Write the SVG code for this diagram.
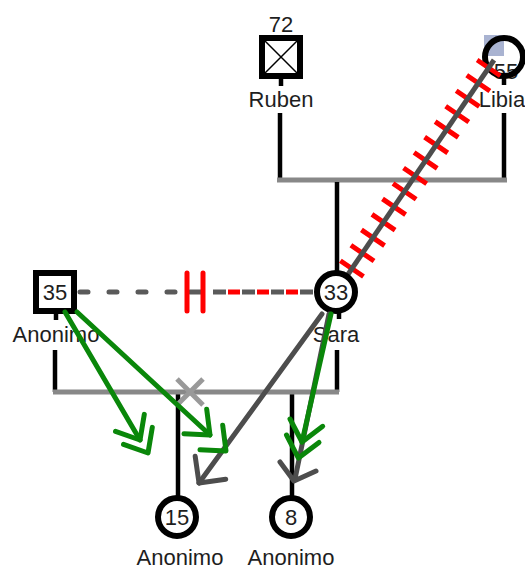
<svg xmlns="http://www.w3.org/2000/svg" width="525" height="569" viewBox="0 0 525 569">
<style>
  text { font-family: "Liberation Sans", Arial, sans-serif; font-size: 22px; fill: #1e1e1e; text-anchor: middle; }
  .fam { stroke: #000; stroke-width: 4.5; fill: none; }
  .bar { stroke: #888; stroke-width: 5; fill: none; }
  .node { stroke: #000; stroke-width: 6; fill: #fff; }
  .stem { stroke: #000; stroke-width: 4.5; }
  .grn { stroke: #0a870a; stroke-width: 5; fill: none; stroke-linecap: round; stroke-linejoin: round; }
  .gry { stroke: #4d4d4d; stroke-width: 5; fill: none; stroke-linecap: round; stroke-linejoin: round; }
  .red { stroke: #ff0000; fill: none; }
</style>
<rect x="0" y="0" width="525" height="569" fill="#fff"/>

<g id="connectors">
  <!-- upper family -->
  <line class="fam" x1="280" y1="113" x2="280" y2="180"/>
  <line class="fam" x1="504" y1="113" x2="504" y2="180"/>
  <line class="bar" x1="277" y1="180" x2="507" y2="180"/>
  <line class="fam" x1="337" y1="182" x2="337" y2="274"/>
  <!-- lower family -->
  <line class="fam" x1="55" y1="350" x2="55" y2="392"/>
  <line class="fam" x1="337" y1="350" x2="337" y2="392"/>
  <line class="fam" x1="178" y1="394" x2="178" y2="499"/>
  <line class="fam" x1="292" y1="394" x2="292" y2="499"/>
  <line class="bar" x1="53" y1="392" x2="339" y2="392"/>
  <path d="M177 379 L203 405 M203 379 L177 405" stroke="#999" stroke-width="5" fill="none"/>
  <!-- Anonimo - Sara dashed relation -->
  <line x1="80" y1="292" x2="184" y2="292" stroke="#5a5a5a" stroke-width="5" stroke-linecap="round" stroke-dasharray="8 21"/>
  <line x1="190" y1="292" x2="202" y2="292" stroke="#5a5a5a" stroke-width="5" stroke-linecap="round"/>
  <line x1="228" y1="292" x2="316" y2="292" class="red" stroke-width="5" stroke-dasharray="12 17"/>
  <line x1="213" y1="292" x2="316" y2="292" stroke="#5a5a5a" stroke-width="5" stroke-dasharray="13 16"/>
  <line x1="187" y1="273" x2="187" y2="311" class="red" stroke-width="5" stroke-linecap="round"/>
  <line x1="203" y1="273" x2="203" y2="311" class="red" stroke-width="5" stroke-linecap="round"/>
</g>

<g id="node-libia">
  <rect x="484" y="35" width="20" height="21" fill="#a9b3d1"/>
  <text x="506" y="79">55</text>
  <circle cx="504" cy="57" r="19" stroke="#000" stroke-width="6" fill="none"/>
  <line class="stem" x1="504" y1="78" x2="504" y2="85"/>
  <text x="502" y="107">Libia</text>
</g>

<g id="connectors-hostile">
  <line x1="336" y1="292" x2="490" y2="66" class="red" stroke-width="28" stroke-dasharray="5 13.7" stroke-dashoffset="-7.1"/>
  <line x1="336" y1="292" x2="494" y2="60" stroke="#4d4d4d" stroke-width="5"/>
</g>

<g id="node-ruben">
  <text x="281" y="32">72</text>
  <rect class="node" x="262" y="38" width="38" height="38"/>
  <path d="M265 41 L297 73 M297 41 L265 73" stroke="#000" stroke-width="1.5" fill="none"/>
  <line class="stem" x1="281" y1="78" x2="281" y2="86"/>
  <text x="281" y="107">Ruben</text>
</g>

<g id="node-anonimo35">
  <rect class="node" x="36" y="273" width="38" height="38"/>
  <text x="55" y="300">35</text>
  <line class="stem" x1="56" y1="313" x2="56" y2="320"/>
  <text x="56" y="342">Anonimo</text>
</g>

<g id="node-sara">
  <circle class="node" cx="336" cy="292" r="19"/>
  <text x="336" y="300">33</text>
  <line class="stem" x1="339" y1="313" x2="339" y2="319"/>
  <text x="336" y="342">Sara</text>
</g>

<g id="node-anonimo15">
  <circle class="node" cx="177" cy="517" r="19"/>
  <text x="177" y="525">15</text>
  <text x="180" y="565">Anonimo</text>
</g>

<g id="node-anonimo8">
  <circle class="node" cx="291" cy="517" r="19"/>
  <text x="291" y="525">8</text>
  <text x="291" y="565">Anonimo</text>
</g>

<g id="arrows">
  <!-- gray arrows from Sara -->
  <path class="gry" d="M322 314 L199 483"/>
  <path class="gry" d="M195.2 456.3 L199 483 L225.7 479.2"/>
  <path class="gry" d="M329 314 L295 479"/>
  <path class="gry" d="M280 462 L294 481 L316 471"/>
  <!-- green arrows -->
  <path class="grn" d="M65 312 L140 440"/>
  <path class="grn" d="M115.5 431.3 L140 440 L144.3 414.4"/>
  <path class="grn" d="M123.5 444.3 L148 453 L152.3 427.4"/>
  <path class="grn" d="M77 312 L210 435"/>
  <path class="grn" d="M184 433.7 L210 435 L206.7 409.2"/>
  <path class="grn" d="M200 449.7 L226 451 L222.7 425.2"/>
  <path class="grn" d="M331 314 L302 442"/>
  <path class="grn" d="M290 419 L302 442 L322.7 426.3"/>
  <path class="grn" d="M286.5 435 L298.4 458.1 L319 442.4"/>
</g>
</svg>
